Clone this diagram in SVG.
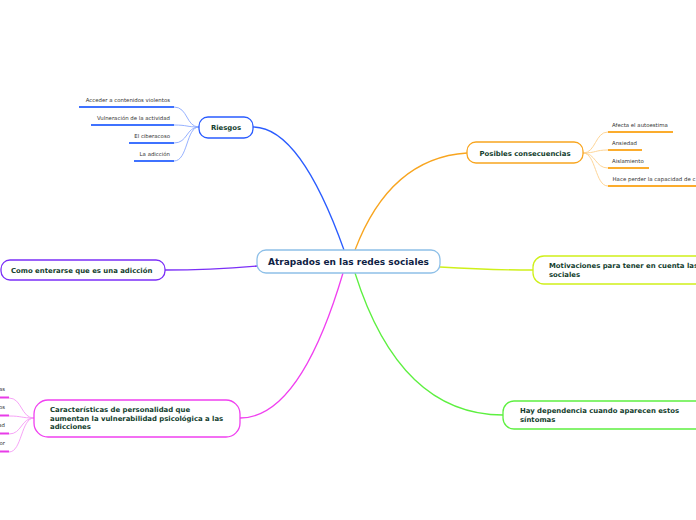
<svg xmlns="http://www.w3.org/2000/svg" width="696" height="520" viewBox="0 0 696 520">
<style>
.t{font-family:"DejaVu Sans",Verdana,sans-serif;font-weight:bold;font-size:6.9px;fill:#123d2d}
.c{font-family:"DejaVu Sans",Verdana,sans-serif;font-weight:bold;font-size:9px;fill:#0e2244}
.s{font-family:"DejaVu Sans",Verdana,sans-serif;font-size:5.4px;fill:#333}
.n{fill:#fff;stroke-width:1.3}
.l{fill:none;stroke-width:1.3}
.sl{fill:none;stroke-width:0.9}
.u{fill:none;stroke-width:2}
</style>
<rect width="696" height="520" fill="#fff"/>
<g id="connectors">
<path class="l" stroke="#2a5cff" d="M253,127 Q300,127 344,250"/>
<path class="l" stroke="#f8a51f" d="M355,250 Q390,158 467,153"/>
<path class="l" stroke="#7b2ff7" d="M257,266 Q210,270 165,270"/>
<path class="l" stroke="#cff01a" d="M440,267 Q490,270 533,270"/>
<path class="l" stroke="#f040f0" d="M343,273 Q300,418 240,418"/>
<path class="l" stroke="#5df040" d="M355,273 Q400,415 503,415"/>
<g stroke="#8aa8ff">
<path class="sl" d="M199,127 C186,127 188,107 174,107"/>
<path class="sl" d="M199,127 C186,127 188,125 174,125"/>
<path class="sl" d="M199,127 C186,127 188,143 174,143"/>
<path class="sl" d="M199,127 C186,127 188,161 174,161"/>
</g>
<g stroke="#fdd08c">
<path class="sl" d="M583,153 C596,153 595,132 608,132"/>
<path class="sl" d="M583,153 C596,153 595,150 608,150"/>
<path class="sl" d="M583,153 C596,153 595,168 608,168"/>
<path class="sl" d="M583,153 C596,153 595,186 608,186"/>
</g>
<g stroke="#f59af5">
<path class="sl" d="M34,418 C21,418 22,398 9,398"/>
<path class="sl" d="M34,418 C21,418 22,416 9,416"/>
<path class="sl" d="M34,418 C21,418 22,434 9,434"/>
<path class="sl" d="M34,418 C21,418 22,452 9,452"/>
</g>
</g>
<g id="central">
<rect class="n" x="257" y="250" width="183" height="23" rx="9" stroke="#8ec0e8"/>
<text class="c" x="348.5" y="264.5" text-anchor="middle">Atrapados en las redes sociales</text>
</g>
<g id="riesgos">
<rect class="n" x="199" y="117" width="54" height="21" rx="9" stroke="#2a5cff"/>
<text class="t" x="226" y="130" text-anchor="middle">Riesgos</text>
</g>
<g id="riesgos-subs">
<path class="u" stroke="#3f72ff" d="M79,107H174M91,125H174M129,143H174M134,161H174"/>
<text class="s" x="170" y="101.7" text-anchor="end">Acceder a contenidos violentos</text>
<text class="s" x="170" y="119.7" text-anchor="end">Vulneración de la actividad</text>
<text class="s" x="170" y="137.7" text-anchor="end">El ciberacoso</text>
<text class="s" x="170" y="155.7" text-anchor="end">La adicción</text>
</g>
<g id="consecuencias">
<rect class="n" x="467" y="142" width="116" height="21" rx="9" stroke="#f8a51f"/>
<text class="t" x="525" y="155.5" text-anchor="middle">Posibles consecuencias</text>
</g>
<g id="consecuencias-subs">
<path class="u" stroke="#fbac2d" d="M608,132H673M608,150H642M608,168H649M608,186H700"/>
<text class="s" x="612" y="127.3">Afecta el autoestima</text>
<text class="s" x="612" y="145.3">Ansiedad</text>
<text class="s" x="612" y="163.3">Aislamiento</text>
<text class="s" x="612.5" y="181.3" textLength="83" lengthAdjust="spacing">Hace perder la capacidad de c</text>
</g>
<g id="como">
<rect class="n" x="1" y="260" width="164" height="20" rx="9" stroke="#7b2ff7"/>
<text class="t" x="11" y="272.5">Como enterarse que es una adicción</text>
</g>
<g id="motivaciones">
<rect class="n" x="533" y="256" width="180" height="28" rx="11" stroke="#cff01a"/>
<text class="t" x="549" y="268.3">Motivaciones para tener en cuenta las</text>
<text class="t" x="549" y="276.8">sociales</text>
</g>
<g id="caracteristicas">
<rect class="n" x="34" y="400" width="206" height="37" rx="14" stroke="#f040f0"/>
<text class="t" x="50" y="411.7">Características de personalidad que</text>
<text class="t" x="50" y="420.5">aumentan la vulnerabilidad psicológica a las</text>
<text class="t" x="50" y="429.3">adicciones</text>
</g>
<g id="caracteristicas-subs">
<path class="u" stroke="#e83ce8" d="M-5,397.5H9M-5,415.5H9M-5,433.5H9M-5,451.5H9"/>
<text class="s" x="5" y="391.3" text-anchor="end">as</text>
<text class="s" x="5" y="409.3" text-anchor="end">os</text>
<text class="s" x="5" y="427.3" text-anchor="end">ad</text>
<text class="s" x="5" y="445.3" text-anchor="end">or</text>
</g>
<g id="dependencia">
<rect class="n" x="503" y="401" width="210" height="28" rx="11" stroke="#5df040"/>
<text class="t" x="520" y="413.3">Hay dependencia cuando aparecen estos</text>
<text class="t" x="520" y="421.8">síntomas</text>
</g>
</svg>
